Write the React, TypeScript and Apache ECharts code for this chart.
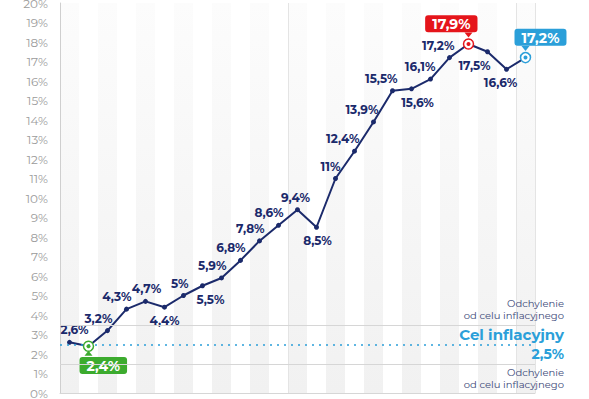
import React, { useEffect, useRef } from "react";
import * as echarts from "echarts";

const categories = [
  "sty 2021", "lut 2021", "mar 2021", "kwi 2021", "maj 2021", "cze 2021",
  "lip 2021", "sie 2021", "wrz 2021", "paź 2021", "lis 2021", "gru 2021",
  "sty 2022", "lut 2022", "mar 2022", "kwi 2022", "maj 2022", "cze 2022",
  "lip 2022", "sie 2022", "wrz 2022", "paź 2022", "lis 2022", "gru 2022",
  "sty 2023",
];
const inflation = [
  2.6, 2.4, 3.2, 4.3, 4.7, 4.4, 5, 5.5, 5.9, 6.8, 7.8, 8.6,
  9.4, 8.5, 11, 12.4, 13.9, 15.5, 15.6, 16.1, 17.2, 17.9, 17.5, 16.6,
  17.2,
];
const target = 2.5;
const upperBand = 3.5;
const lowerBand = 1.5;
const yearStartIdx = [12, 24];

const NAVY = "#1b2a6b";
const GREEN = "#3cab2e";
const RED = "#e5151b";
const BLUE = "#2b9fd9";

const fmt = (v: number) => String(v).replace(".", ",") + "%";

// label placement (style only)
const belowDx: Record<number, number> = { 5: 0, 7: 8, 13: 1, 18: 6, 22: -13, 23: -6 };
const aboveDx: Record<number, number> = { 0: 5, 4: 1, 12: -2 };
const special: Record<number, { color: string; pos: "top" | "bottom"; align: string; dx: number; rot: number; off: number }> = {
  1: { color: GREEN, pos: "bottom", align: "left", dx: -9, rot: 0, off: 7 },
  21: { color: RED, pos: "top", align: "right", dx: 9, rot: 180, off: -9 },
  24: { color: BLUE, pos: "top", align: "left", dx: -11, rot: 180, off: -9 },
};

export default function App() {
  const ref = useRef<HTMLDivElement>(null);
  useEffect(() => {
    if (!ref.current) return;
    const chart = echarts.init(ref.current, undefined, { renderer: "svg" });
    const font = "Montserrat, 'Open Sans', sans-serif";

    const data = inflation.map((v, i) => {
      const sp = special[i];
      if (sp) {
        return {
          value: v,
          symbolSize: 10,
          itemStyle: { color: "#fff", borderColor: sp.color, borderWidth: 1.5 },
          label: {
            show: true,
            position: sp.pos,
            align: sp.align,
            offset: [sp.dx, 0],
            distance: sp.pos === "top" ? 6 : 5,
            backgroundColor: sp.color,
            borderRadius: 3,
            padding: [2, 7, 1, 7],
            color: "#fff",
            fontSize: 14,
            fontWeight: "bold",
            fontFamily: font,
          },
        };
      }
      if (belowDx[i] !== undefined) {
        return {
          value: v,
          label: { position: "bottom", align: "center", offset: [belowDx[i], 0], distance: 5 },
        };
      }
      if (aboveDx[i] !== undefined) {
        return {
          value: v,
          label: { position: "top", align: "center", offset: [aboveDx[i], 0], distance: 4 },
        };
      }
      return {
        value: v,
        label: { position: "top", align: "right", offset: [5, 0], distance: 4 },
      };
    });

    const specialIdx = Object.keys(special).map(Number);
    const markPoints: any[] = [];
    specialIdx.forEach((i) => {
      const sp = special[i];
      markPoints.push({
        coord: [categories[i], inflation[i]],
        symbol: "circle",
        symbolSize: 4,
        itemStyle: { color: sp.color },
        label: { show: false },
      });
      markPoints.push({
        coord: [categories[i], inflation[i]],
        symbol: "triangle",
        symbolSize: [8, 5],
        symbolRotate: sp.rot,
        symbolOffset: [0, sp.off],
        itemStyle: { color: sp.color },
        label: { show: false },
      });
    });

    const stripe = new echarts.graphic.LinearGradient(0, 0, 0, 1, [
      { offset: 0, color: "#fcfcfc" },
      { offset: 1, color: "#f1f1f1" },
    ]);

    chart.setOption({
      animation: false,
      textStyle: { fontFamily: font },
      grid: { left: 60, right: 54, top: 3, bottom: 6, containLabel: false, outerBoundsMode: "none" },
      xAxis: {
        type: "category",
        data: categories,
        boundaryGap: true,
        axisLine: { show: true, lineStyle: { color: "#d6d6d6" } },
        axisTick: { show: false },
        axisLabel: { show: false, interval: 0 },
        splitArea: { show: true, interval: 0, areaStyle: { color: [stripe, "#ffffff"] } },
        splitLine: {
          show: true,
          interval: (idx: number) => yearStartIdx.includes(idx),
          lineStyle: { color: "#e4e4e4", width: 1 },
        },
      },
      yAxis: {
        type: "value",
        min: 0,
        max: 20,
        interval: 1,
        axisLine: { show: true, lineStyle: { color: "#cfcfcf" } },
        axisTick: { show: false },
        splitLine: { show: false },
        axisLabel: { formatter: "{value}%", color: "#9b9b9b", fontSize: 12, margin: 12, fontFamily: font },
      },
      series: [
        {
          type: "line",
          data,
          symbol: "circle",
          symbolSize: 5,
          itemStyle: { color: NAVY },
          lineStyle: { color: NAVY, width: 2 },
          label: {
            show: true,
            formatter: (p: any) => fmt(p.value),
            color: NAVY,
            fontSize: 12,
            fontWeight: "bold",
            fontFamily: font,
          },
          markPoint: { silent: true, data: markPoints },
          markLine: {
            silent: true,
            symbol: ["none", "none"],
            data: [
              {
                yAxis: upperBand,
                lineStyle: { color: "#d6d6d6", width: 1, type: "solid" },
                label: {
                  show: true,
                  position: "insideEndTop",
                  distance: [-29, 3],
                  formatter: "Odchylenie\nod celu inflacyjnego",
                  color: "#3b4878",
                  fontSize: 10,
                  lineHeight: 12,
                  align: "right",
                },
              },
              {
                yAxis: target,
                lineStyle: { color: BLUE, width: 1.5, type: [2, 5] },
                label: {
                  show: true,
                  position: "insideEnd",
                  distance: [-29, 0],
                  formatter: "{a|Cel inflacyjny}\n{b|" + fmt(target) + "}",
                  align: "right",
                  rich: {
                    a: { color: BLUE, fontSize: 15, fontWeight: "bold", lineHeight: 20, align: "right", fontFamily: font },
                    b: { color: BLUE, fontSize: 14, fontWeight: "bold", lineHeight: 20, align: "right", fontFamily: font },
                  },
                },
              },
              {
                yAxis: lowerBand,
                lineStyle: { color: "#d6d6d6", width: 1, type: "solid" },
                label: {
                  show: true,
                  position: "insideEndBottom",
                  distance: [-29, 3],
                  formatter: "Odchylenie\nod celu inflacyjnego",
                  color: "#3b4878",
                  fontSize: 10,
                  lineHeight: 12,
                  align: "right",
                },
              },
            ],
          },
        },
      ],
    });
    return () => chart.dispose();
  }, []);
  return (
    <div
      ref={ref}
      style={{ position: "fixed", left: 0, top: 0, width: 589, height: 399, background: "#fff" }}
    />
  );
}
